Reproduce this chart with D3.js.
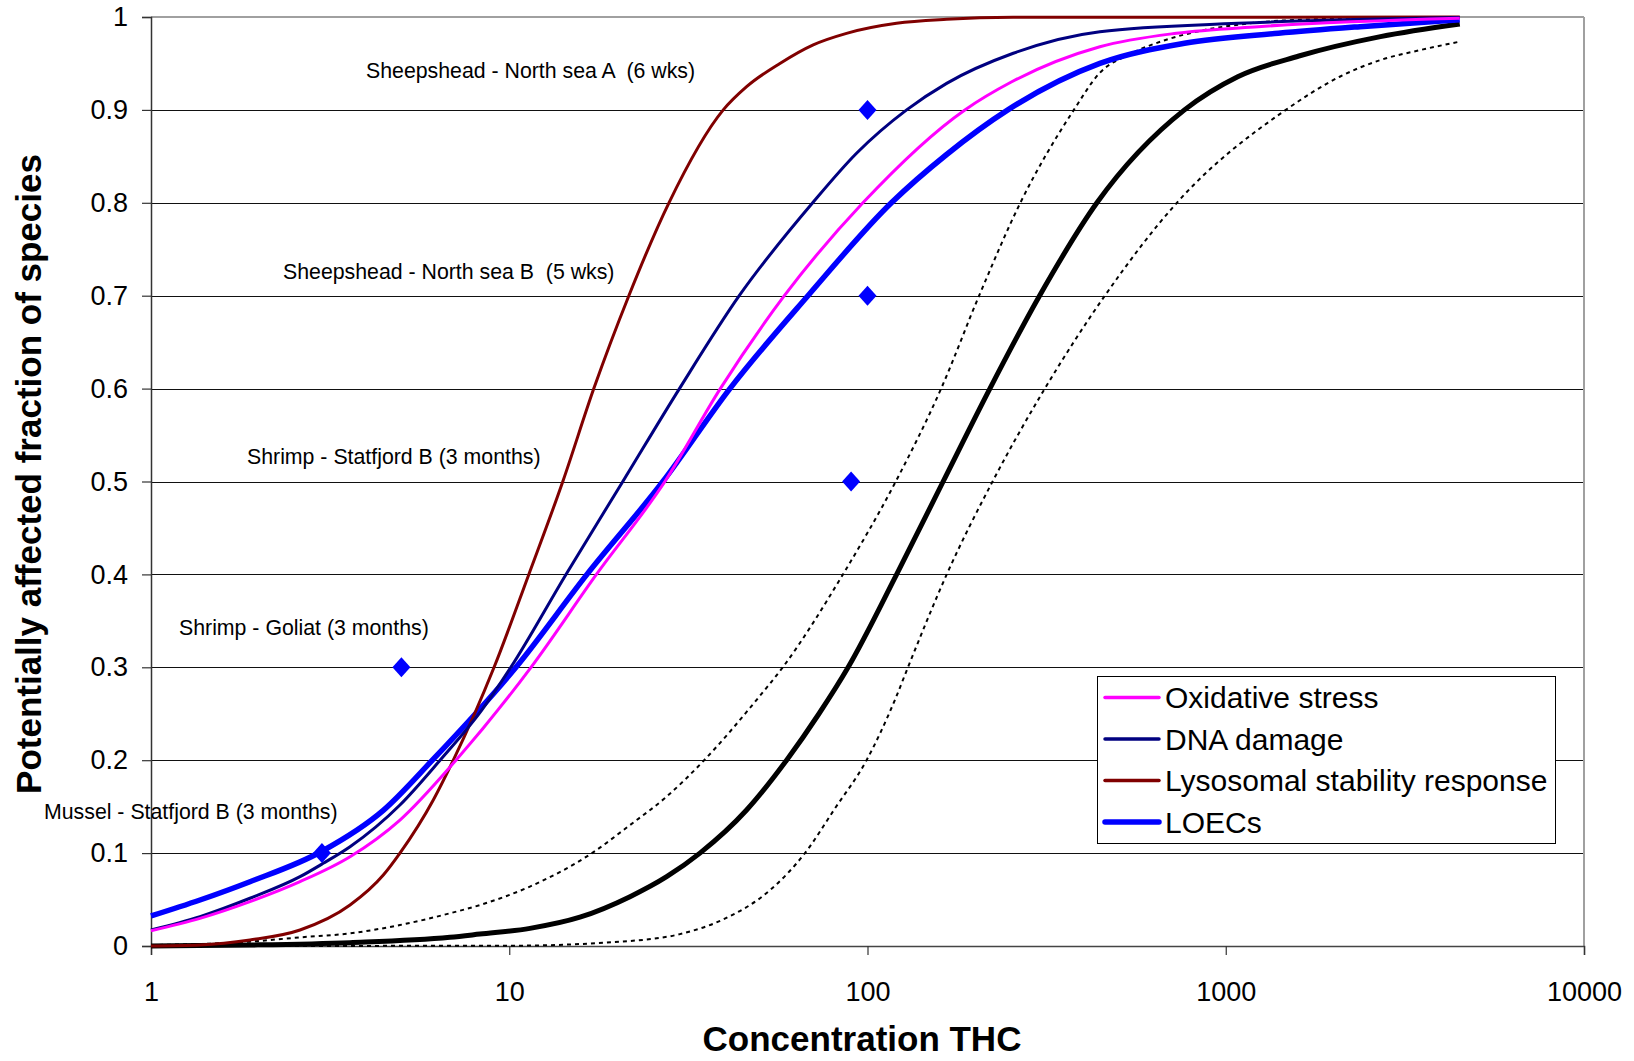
<!DOCTYPE html>
<html>
<head>
<meta charset="utf-8">
<script src="https://cdn.jsdelivr.net/npm/d3@7"></script>
<style>
  body { margin: 0; background: #fff; }
  svg { font-family: "Liberation Sans", Arial, sans-serif; display: block; }
</style>
</head>
<body>
<svg id="chart"></svg>
<script>
// data: [concentration THC, fraction]
var oxidative = [[1,0.0165],[1.37,0.0298],[1.889,0.0478],[2.606,0.0693],[3.594,0.0961],[4.953,0.1356],[7.1,0.2],
  [11.5,0.3],[17.51,0.4],[27.2,0.5],[38.83,0.6],[58.6,0.7],[97.1,0.8],[187,0.9],[252,0.93],
  [445.3,0.968],[728,0.9825],[1231,0.9896],[4500,0.9986]];

var dnaDamage = [[1,0.0172],[1.37,0.0316],[1.889,0.0514],[2.606,0.0746],[3.025,0.089],[3.594,0.1069],[4.953,0.1518],
  [6.41,0.2],[8.38,0.254],[10.1,0.3],[14.4,0.4],[20.75,0.5],[29.86,0.6],[43.85,0.7],[70.3,0.8],[93.2,0.8533],
  [128.6,0.9],[166.3,0.9286],[255.2,0.961],[445.3,0.9842],[1080,0.9932],[4500,0.9995]];

var lysosomal = [[1,0],[1.37,0.0011],[1.889,0.0065],[2.606,0.0172],[3.594,0.0441],[4.451,0.0764],[4.953,0.1],
  [6.137,0.1572],[6.98,0.2],[9.07,0.3],[11.34,0.4],[14.11,0.5],[17.22,0.6],[21.57,0.7],[27.91,0.8],
  [39.57,0.9],[45.98,0.925],[56.95,0.95],[70.55,0.97],[87.4,0.9824],[120.5,0.9932],[166.3,0.9975],[255.2,0.9996],[4500,1.0]];

var loecs = [[1,0.0323],[1.37,0.0495],[1.889,0.0692],[3.0,0.102],[4.45,0.146],[6.1,0.2],[10.44,0.3],
  [16.48,0.4],[26.85,0.5],[41.3,0.6],[68.2,0.7],[116.6,0.8],[166.3,0.852],[246.5,0.9],[445.3,0.95],[767,0.9717],
  [1403,0.9825],[2371,0.9896],[4500,0.997]];

var fitted = [[1,0],[1.889,0.0011],[3.594,0.0036],[6.83,0.0093],[8.28,0.0128],[11.42,0.019],[15.75,0.031],
  [21.73,0.0531],[27.5,0.0746],[34.06,0.1],[45.98,0.1464],[59.45,0.2],[73.2,0.25],[88.3,0.3],[120.6,0.4],
  [162.6,0.5],[219.6,0.6],[302.2,0.7],[436.9,0.8],[767,0.9],[1080,0.9357],[1600,0.958],[2703,0.9789],[4500,0.9925]];

var lowerBound = [[1,0.001],[1.889,0.0047],[2.606,0.0093],[3.594,0.0136],[4.953,0.0226],[6.83,0.0352],[8.28,0.0441],
  [11.42,0.064],[17.02,0.1],[21.73,0.1302],[27.5,0.1608],[35.0,0.2],[49.04,0.265],[58.0,0.3],[85.4,0.4],
  [119.9,0.5],[160.5,0.6],[204.9,0.7],[267.1,0.8],[376.7,0.9],[445.3,0.94],[540,0.96],[676,0.975],[847,0.985],
  [1094,0.992],[1610,0.997],[4500,1.0]];

var upperBound = [[1,0],[10,0.0003],[21.73,0.0054],[29.95,0.0128],[39.24,0.028],[53.4,0.06],[66.9,0.1],
  [81.1,0.148],[99.4,0.2],[119.3,0.265],[129.7,0.3],[166.4,0.4],[223.4,0.5],[312.6,0.6],[459.7,0.7],[730.3,0.8],
  [1471,0.9],[2080,0.9357],[2703,0.9537],[3500,0.9645],[4500,0.9735]];

var loecPoints = [[100,0.9],[100,0.7],[90,0.5],[5,0.3],[3,0.1]];

var noteLabels = ["Sheepshead - North sea A  (6 wks)", "Sheepshead - North sea B  (5 wks)",
  "Shrimp - Statfjord B (3 months)", "Shrimp - Goliat (3 months)", "Mussel - Statfjord B (3 months)"];

var legendNames = ["Oxidative stress", "DNA damage", "Lysosomal stability response", "LOECs"];

var xTicks = [1, 10, 100, 1000, 10000];
var yTicks = [0, 0.1, 0.2, 0.3, 0.4, 0.5, 0.6, 0.7, 0.8, 0.9, 1];

// layout
var width = 1634, height = 1061;
var plotLeft = 151, plotRight = 1584, plotTop = 17, plotBottom = 946;
var notePos = [[366, 71], [283, 272], [247, 457], [179, 628], [44, 812]];

var svg = d3.select("#chart").attr("width", width).attr("height", height);
svg.append("rect").attr("width", width).attr("height", height).attr("fill", "#fff");

var x = d3.scaleLog().domain([1, 10000]).range([plotLeft, plotRight]);
var y = d3.scaleLinear().domain([0, 1]).range([plotBottom, plotTop]);

// gridlines
svg.append("g").selectAll("line")
    .data(yTicks.filter(function(d) { return d > 0 && d < 1; }))
    .join("line")
    .attr("x1", plotLeft).attr("x2", plotRight)
    .attr("y1", function(d) { return Math.round(y(d)) + 0.5; })
    .attr("y2", function(d) { return Math.round(y(d)) + 0.5; })
    .attr("stroke", "#111").attr("stroke-width", 1);

// plot frame: grey top and right
svg.append("line").attr("x1", plotLeft).attr("x2", plotRight).attr("y1", plotTop).attr("y2", plotTop)
    .attr("stroke", "#a0a0a0").attr("stroke-width", 2);
svg.append("line").attr("x1", plotRight).attr("x2", plotRight).attr("y1", plotTop).attr("y2", plotBottom)
    .attr("stroke", "#a0a0a0").attr("stroke-width", 2);

// axes
var xAxis = svg.append("g").attr("transform", "translate(0," + plotBottom + ")")
    .call(d3.axisBottom(x).tickValues(xTicks).tickFormat(d3.format("d")).tickSize(9).tickPadding(27));
var yAxis = svg.append("g").attr("transform", "translate(" + plotLeft + ",0)")
    .call(d3.axisLeft(y).tickValues(yTicks).tickFormat(function(d) { return d === 0 ? "0" : d === 1 ? "1" : d3.format(".1f")(d); })
      .tickSize(9).tickPadding(14));

[xAxis, yAxis].forEach(function(a) {
    a.select(".domain").attr("stroke", "#333").attr("stroke-width", 1.5);
    a.selectAll(".tick line").attr("stroke", "#333").attr("stroke-width", 1.2);
    a.selectAll(".tick text").attr("font-size", 27).attr("fill", "#000")
        .attr("font-family", "'Liberation Sans', Arial, sans-serif");
});
xAxis.select(".domain").attr("stroke", "#444");

// axis titles
svg.append("text").attr("x", 862).attr("y", 1051).attr("text-anchor", "middle")
    .attr("font-size", 35).attr("font-weight", "bold").text("Concentration THC");
svg.append("text").attr("transform", "translate(41,474) rotate(-90)").attr("text-anchor", "middle")
    .attr("font-size", 35).attr("font-weight", "bold").text("Potentially affected fraction of species");

var line = d3.line()
    .x(function(d) { return x(d[0]); })
    .y(function(d) { return y(d[1]); })
    .curve(d3.curveMonotoneX);

var curves = [
    { data: lowerBound, color: "#000", w: 2, dash: "4,4" },
    { data: upperBound, color: "#000", w: 2, dash: "4,4" },
    { data: fitted, color: "#000", w: 5 },
    { data: loecs, color: "#0000ff", w: 5.5 },
    { data: lysosomal, color: "#800000", w: 3 },
    { data: dnaDamage, color: "#000080", w: 3 },
    { data: oxidative, color: "#ff00ff", w: 3 }
];

svg.append("g").selectAll("path")
    .data(curves)
    .join("path")
    .attr("d", function(d) { return line(d.data); })
    .attr("fill", "none")
    .attr("stroke", function(d) { return d.color; })
    .attr("stroke-width", function(d) { return d.w; })
    .attr("stroke-dasharray", function(d) { return d.dash || null; })
    .attr("stroke-linejoin", "round");

// LOEC markers
svg.append("g").selectAll("path")
    .data(loecPoints)
    .join("path")
    .attr("transform", function(d) { return "translate(" + x(d[0]) + "," + y(d[1]) + ")"; })
    .attr("d", "M0,-10L9,0L0,10L-9,0Z")
    .attr("fill", "#0000ff");

// annotations
svg.append("g").selectAll("text")
    .data(noteLabels)
    .join("text")
    .attr("x", function(d, i) { return notePos[i][0]; })
    .attr("y", function(d, i) { return notePos[i][1]; })
    .attr("dy", "0.35em")
    .attr("font-size", 21.3)
    .style("white-space", "pre")
    .attr("xml:space", "preserve")
    .text(function(d) { return d; });

// legend
var legendColors = ["#ff00ff", "#000080", "#800000", "#0000ff"];
var legendWidths = [3.5, 3.5, 3.5, 5.5];
var legend = svg.append("g");
legend.append("rect").attr("x", 1097.5).attr("y", 676.5).attr("width", 458).attr("height", 167)
    .attr("fill", "#fff").attr("stroke", "#000").attr("stroke-width", 1);
var item = legend.selectAll("g.item")
    .data(legendNames)
    .join("g").attr("class", "item")
    .attr("transform", function(d, i) { return "translate(0," + (697.5 + i * 41.5) + ")"; });
item.append("line").attr("x1", 1105).attr("x2", 1159).attr("y1", 0).attr("y2", 0)
    .attr("stroke", function(d, i) { return legendColors[i]; })
    .attr("stroke-width", function(d, i) { return legendWidths[i]; })
    .attr("stroke-linecap", "round");
item.append("text").attr("x", 1165).attr("y", 0).attr("dy", "0.36em")
    .attr("font-size", 30).text(function(d) { return d; });
</script>
</body>
</html>
